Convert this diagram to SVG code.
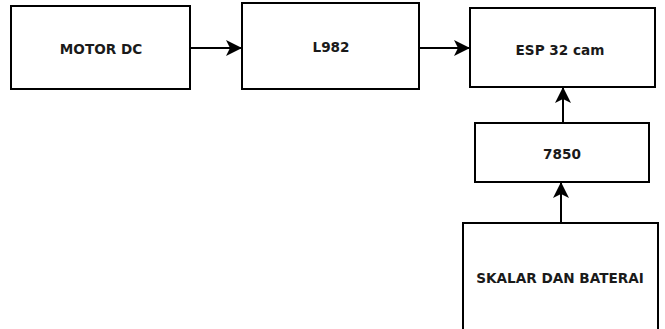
<svg xmlns="http://www.w3.org/2000/svg" width="665" height="329" viewBox="0 0 665 329">
<defs>
<style>
.box{fill:#ffffff;stroke:#000000;stroke-width:2}
.lbl{font-family:"DejaVu Sans",Verdana,sans-serif;font-weight:bold;font-size:13.6px;fill:#1a1a1a;text-anchor:middle;dominant-baseline:central}
.edge{fill:none;stroke:#000000;stroke-width:2}
</style>
<marker id="arr" viewBox="0 0 16 16" refX="15" refY="8" markerWidth="16" markerHeight="16" markerUnits="userSpaceOnUse" orient="auto">
<path d="M0,0 L16,8 L0,16 L4,8 Z" fill="#000000"/>
</marker>
</defs>
<rect width="665" height="329" fill="#ffffff"/>
<g id="motor-dc"><rect class="box" x="11" y="6" width="179" height="83"/><text class="lbl" x="101" y="49">MOTOR DC</text></g>
<g id="l982"><rect class="box" x="242" y="3" width="177" height="86"/><text class="lbl" x="331" y="47">L982</text></g>
<g id="esp32cam"><rect class="box" x="470" y="8" width="185" height="79"/><text class="lbl" x="560" y="50">ESP 32 cam</text></g>
<g id="n7850"><rect class="box" x="475" y="123" width="174" height="59"/><text class="lbl" x="562" y="154">7850</text></g>
<g id="skalar"><rect class="box" x="463" y="223" width="195" height="120"/><text class="lbl" x="560" y="278">SKALAR DAN BATERAI</text></g>
<g id="connectors">
<path class="edge" d="M190,48 L241,48" marker-end="url(#arr)"/>
<path class="edge" d="M419,48 L469,48" marker-end="url(#arr)"/>
<path class="edge" d="M563,123 L563,88" marker-end="url(#arr)"/>
<path class="edge" d="M561,223 L561,183" marker-end="url(#arr)"/>
</g>
</svg>
